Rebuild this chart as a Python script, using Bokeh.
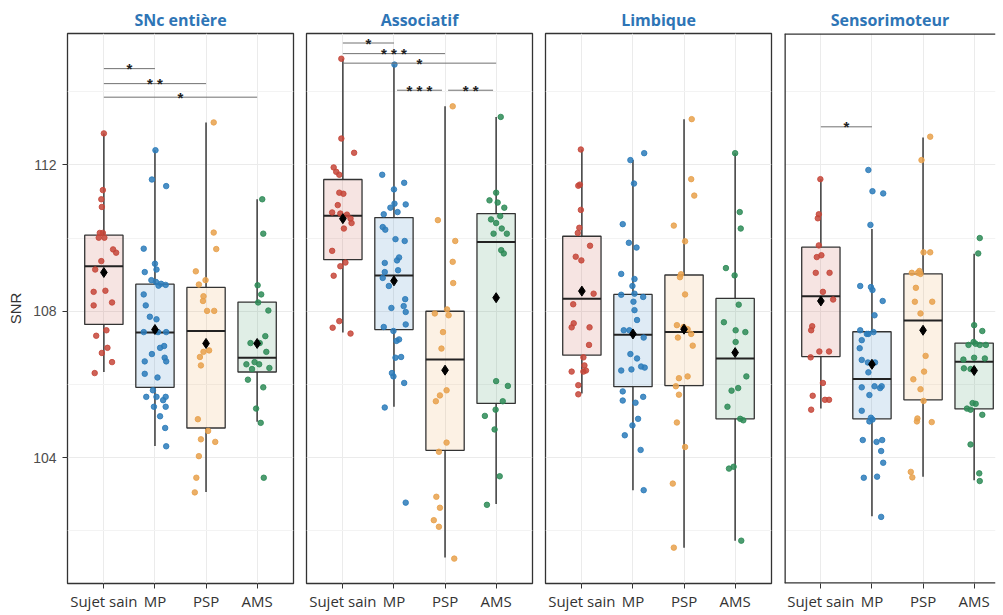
from bokeh.plotting import figure
from bokeh.layouts import row
from bokeh.models import FixedTicker, Range1d, Span
from bokeh.embed import file_html
from bokeh.resources import INLINE

# ---------------- data ----------------
CATEGORIES = ["Sujet sain", "MP", "PSP", "AMS"]
PANEL_TITLES = ["SNc entière", "Associatif", "Limbique", "Sensorimoteur"]
COLORS = ["#C5473A", "#2B7BBA", "#E8A14C", "#2E8B57"]
Y_TICKS = [104, 108, 112]
Y_MINOR = [102, 106, 110, 114]
Y_LABEL = "SNR"

# --- SNc entière ---
SNC_Y = {
    "Sujet sain": [112.86, 111.31, 111.06, 110.85, 110.14, 110.14, 110.01, 110.01, 109.69, 109.60, 109.37,
                   109.14, 108.53, 108.56, 108.16, 108.24, 107.48, 107.33, 107.00, 106.86, 106.61, 106.31],
    "MP": [112.40, 111.60, 111.42, 109.71, 109.30, 109.14, 109.07, 108.85, 108.80, 108.75, 108.70, 108.72,
           108.46, 108.16, 107.85, 107.78, 107.43, 107.43, 107.43, 107.05, 107.00, 106.83, 106.73, 106.63,
           106.63, 106.29, 106.19, 105.84, 105.66, 105.66, 105.66, 105.57, 105.39, 105.39, 105.13, 104.81, 104.31],
    "PSP": [113.16, 110.15, 109.70, 109.09, 108.85, 108.73, 108.41, 108.28, 108.01, 108.01, 106.93, 106.89,
            106.75, 106.52, 105.05, 104.73, 104.50, 104.43, 104.04, 103.45, 103.05],
    "AMS": [111.06, 110.12, 108.71, 108.46, 108.24, 108.02, 107.32, 107.13, 107.13, 106.89, 106.55, 106.61,
            106.55, 106.42, 106.45, 106.13, 105.92, 105.34, 104.95, 103.45],
}
SNC_DX = {
    "Sujet sain": [0.00, -0.02, -0.05, -0.04, -0.08, -0.02, -0.10, 0.01, 0.18, 0.24, -0.05, -0.17, -0.20,
                   0.03, -0.20, 0.16, 0.05, -0.15, 0.07, -0.04, 0.16, -0.18],
    "MP": [0.01, -0.06, 0.22, -0.22, 0.00, 0.03, -0.20, -0.07, 0.02, 0.12, 0.07, 0.21, -0.22, -0.18, -0.10,
           0.03, -0.22, 0.06, 0.22, 0.18, 0.10, -0.06, 0.19, -0.20, 0.22, -0.20, 0.05, -0.04, -0.17, 0.03,
           0.21, 0.16, -0.02, 0.21, 0.10, 0.20, 0.22],
    "PSP": [0.15, 0.15, 0.20, -0.20, -0.01, -0.14, -0.05, -0.06, 0.02, 0.16, 0.06, -0.05, -0.12, -0.10,
            -0.16, 0.04, -0.10, 0.18, -0.14, -0.19, -0.22],
    "AMS": [0.10, 0.12, 0.01, 0.08, 0.02, 0.22, 0.16, -0.13, 0.05, 0.18, -0.21, -0.05, 0.04, -0.10, 0.24,
            -0.18, 0.12, -0.02, 0.07, 0.13],
}
SNC_LOW = [106.34, 104.32, 103.06, 104.98]
SNC_Q1 = [107.64, 105.92, 104.81, 106.34]
SNC_MED = [109.23, 107.42, 107.46, 106.73]
SNC_Q3 = [110.08, 108.74, 108.65, 108.25]
SNC_HIGH = [112.86, 112.40, 113.16, 111.06]
SNC_MEAN = [109.06, 107.50, 107.12, 107.12]
SNC_SIG = [("Sujet sain", "MP", 114.63, "*", 0.0),
           ("Sujet sain", "PSP", 114.22, "**", 0.0),
           ("Sujet sain", "AMS", 113.85, "*", 0.0)]

# --- Associatif ---
ASSO_Y = {
    "Sujet sain": [114.90, 112.72, 112.33, 111.93, 111.81, 111.73, 111.24, 111.21, 110.90, 110.70, 110.67,
                   110.64, 110.53, 110.41, 110.26, 109.65, 109.33, 109.23, 108.97, 107.73, 107.55, 107.39],
    "MP": [114.74, 111.73, 111.51, 111.33, 110.94, 110.83, 110.92, 110.71, 110.65, 110.30, 110.23, 109.97,
           109.92, 109.47, 109.39, 109.32, 109.07, 109.12, 108.91, 108.69, 108.33, 108.14, 108.09, 107.98,
           107.64, 107.57, 107.46, 107.19, 107.23, 106.73, 106.75, 106.31, 106.22, 106.04, 105.37, 102.77],
    "PSP": [113.60, 110.49, 109.92, 109.35, 108.77, 107.94, 108.05, 107.89, 107.43, 106.98, 105.84, 105.70,
            105.54, 104.41, 104.16, 102.93, 102.63, 102.29, 102.11, 101.24],
    "AMS": [113.31, 111.24, 111.03, 110.97, 110.83, 110.51, 110.60, 110.41, 110.26, 110.12, 110.12, 109.67,
            109.58, 106.09, 105.96, 105.54, 105.31, 105.14, 104.77, 103.49, 102.71],
}
ASSO_DX = {
    "Sujet sain": [-0.03, -0.03, 0.22, -0.18, -0.13, -0.07, -0.07, 0.01, -0.10, -0.21, -0.05, 0.08, 0.15,
                   0.17, 0.02, -0.21, 0.05, -0.05, -0.18, -0.07, -0.20, 0.15],
    "MP": [0.01, -0.23, 0.20, 0.00, 0.01, -0.07, 0.23, 0.07, -0.20, -0.22, -0.17, 0.03, 0.21, 0.10, 0.06,
           -0.18, -0.18, 0.08, -0.22, -0.10, 0.22, 0.19, -0.05, 0.23, 0.23, -0.20, -0.01, 0.05, 0.10, 0.03,
           0.14, -0.04, -0.01, 0.20, -0.18, 0.23],
    "PSP": [0.15, -0.14, 0.20, 0.15, 0.16, -0.20, 0.04, 0.07, -0.04, -0.07, 0.03, -0.10, -0.18, 0.03, -0.12,
            -0.17, -0.10, -0.22, -0.12, 0.18],
    "AMS": [0.09, 0.00, -0.13, 0.03, 0.16, -0.10, 0.08, 0.00, 0.11, 0.21, -0.05, 0.10, 0.15, 0.00, 0.23,
            0.13, -0.01, -0.22, -0.03, 0.07, -0.18],
}
ASSO_LOW = [107.42, 105.39, 101.27, 102.73]
ASSO_Q1 = [109.41, 107.50, 104.20, 105.48]
ASSO_MED = [110.61, 108.98, 106.68, 109.89]
ASSO_Q3 = [111.60, 110.56, 108.00, 110.67]
ASSO_HIGH = [114.90, 114.74, 113.60, 113.31]
ASSO_MEAN = [110.53, 108.83, 106.39, 108.37]
ASSO_SIG = [("Sujet sain", "MP", 115.33, "*", 0.0),
            ("Sujet sain", "PSP", 115.04, "***", 0.0),
            ("Sujet sain", "AMS", 114.78, "*", 0.0),
            ("MP", "PSP", 114.04, "***", 0.06),
            ("PSP", "AMS", 114.04, "**", 0.06)]

# --- Limbique ---
LIMB_Y = {
    "Sujet sain": [112.42, 111.46, 111.43, 110.77, 110.28, 110.14, 109.79, 109.49, 109.39, 108.48, 108.19,
                   107.67, 107.56, 107.56, 107.08, 106.74, 106.52, 106.38, 106.35, 106.35, 105.98, 105.73],
    "MP": [112.32, 112.13, 111.49, 110.38, 109.87, 109.74, 109.02, 108.88, 108.69, 108.45, 108.48, 108.39,
           108.26, 108.03, 107.76, 107.48, 107.48, 107.28, 106.83, 106.71, 106.49, 106.46, 106.41, 106.38,
           105.81, 105.66, 105.56, 105.50, 105.06, 104.88, 104.61, 104.21, 103.11],
    "PSP": [113.25, 111.61, 111.16, 110.34, 109.91, 109.01, 108.93, 108.46, 107.62, 107.57, 107.51, 107.38,
            107.28, 107.06, 106.22, 106.17, 105.95, 105.72, 104.96, 104.29, 103.29, 101.54],
    "AMS": [112.32, 110.71, 110.26, 109.18, 108.98, 108.18, 107.70, 107.48, 107.43, 107.16, 106.22, 105.90,
            105.83, 105.39, 105.06, 105.02, 103.70, 103.75, 101.73],
}
LIMB_DX = {
    "Sujet sain": [-0.02, -0.04, -0.07, -0.02, -0.05, -0.08, 0.16, -0.12, -0.01, 0.23, -0.17, -0.16, -0.20,
                   0.15, 0.14, 0.03, 0.05, 0.08, -0.20, 0.03, -0.07, -0.07],
    "MP": [0.22, -0.05, 0.02, -0.20, -0.08, 0.07, -0.23, 0.03, -0.01, -0.23, 0.03, 0.20, 0.01, 0.03, 0.08,
           -0.18, -0.07, 0.21, -0.05, 0.08, 0.16, 0.23, -0.03, -0.23, -0.20, 0.20, -0.20, 0.05, 0.10, -0.01,
           -0.16, 0.15, 0.21],
    "PSP": [0.15, 0.14, 0.20, -0.20, 0.02, -0.06, -0.08, 0.02, -0.14, -0.01, 0.07, 0.14, -0.12, 0.17, 0.07,
            -0.10, -0.16, -0.10, -0.14, 0.02, -0.22, -0.20],
    "AMS": [0.00, 0.09, 0.11, -0.18, -0.01, 0.07, -0.22, 0.01, 0.20, 0.01, 0.22, 0.06, -0.07, -0.15, 0.10,
            0.16, -0.12, -0.03, 0.12],
}
LIMB_LOW = [105.75, 103.11, 101.54, 101.73]
LIMB_Q1 = [106.80, 105.94, 105.97, 105.06]
LIMB_MED = [108.34, 107.36, 107.43, 106.71]
LIMB_Q3 = [110.05, 108.46, 108.99, 108.35]
LIMB_HIGH = [112.42, 112.13, 113.25, 112.32]
LIMB_MEAN = [108.55, 107.38, 107.51, 106.87]
LIMB_SIG = []

# --- Sensorimoteur ---
SENS_Y = {
    "Sujet sain": [111.61, 110.65, 110.54, 109.80, 109.53, 109.48, 109.05, 109.05, 108.53, 108.32, 107.59,
                   107.48, 106.90, 106.90, 106.74, 106.04, 105.69, 105.58, 105.58, 105.31],
    "MP": [111.86, 111.28, 111.22, 110.36, 108.69, 108.66, 108.58, 108.28, 107.89, 107.48, 107.38, 107.43,
           107.38, 107.21, 106.99, 106.67, 106.60, 106.60, 106.33, 105.92, 105.95, 105.90, 105.95, 105.71,
           105.28, 105.09, 105.04, 104.99, 104.48, 104.43, 104.48, 104.18, 103.86, 103.45, 103.48, 102.38],
    "PSP": [112.77, 112.13, 109.61, 109.61, 109.05, 109.05, 109.10, 109.02, 108.64, 108.26, 108.26, 107.94,
            106.78, 106.35, 106.14, 105.87, 105.55, 105.07, 104.99, 104.97, 103.61, 103.46],
    "AMS": [110.00, 109.58, 107.62, 107.46, 107.16, 107.11, 107.08, 107.08, 107.08, 106.68, 106.73, 106.71,
            106.44, 106.42, 105.49, 105.47, 105.34, 105.31, 105.17, 104.36, 103.57, 103.36],
}
SENS_DX = {
    "Sujet sain": [-0.01, -0.04, -0.06, -0.04, 0.01, -0.08, -0.10, 0.17, 0.04, 0.24, -0.17, -0.19, -0.03,
                   0.16, -0.20, 0.04, -0.16, 0.08, 0.16, -0.19],
    "MP": [-0.07, 0.01, 0.22, -0.03, -0.23, -0.02, 0.01, 0.21, 0.05, -0.23, -0.07, 0.03, -0.10, -0.20, -0.24,
           -0.20, -0.08, 0.06, -0.07, -0.20, 0.05, 0.16, 0.19, -0.05, -0.20, -0.02, 0.01, -0.05, -0.18, 0.09,
           0.20, 0.18, 0.22, -0.16, 0.10, 0.18],
    "PSP": [0.14, -0.03, 0.01, 0.14, -0.22, -0.10, -0.07, -0.05, -0.14, -0.16, 0.18, -0.05, 0.05, 0.02,
            -0.19, -0.05, 0.01, -0.11, -0.12, 0.17, -0.24, -0.21],
    "AMS": [0.11, 0.08, 0.00, 0.16, -0.01, 0.03, 0.11, 0.23, -0.11, -0.21, 0.00, 0.21, -0.20, -0.07, -0.03,
            0.03, -0.14, -0.07, 0.16, -0.07, 0.10, 0.11],
}
SENS_LOW = [105.34, 102.40, 103.48, 103.38]
SENS_Q1 = [106.76, 105.06, 105.58, 105.33]
SENS_MED = [108.41, 106.15, 107.75, 106.62]
SENS_Q3 = [109.75, 107.44, 109.02, 107.13]
SENS_HIGH = [111.61, 110.25, 112.75, 109.57]
SENS_MEAN = [108.28, 106.55, 107.48, 106.38]
SENS_SIG = [("Sujet sain", "MP", 113.04, "*", 0.0)]

PANELS = [
    (SNC_Y, SNC_DX, SNC_LOW, SNC_Q1, SNC_MED, SNC_Q3, SNC_HIGH, SNC_MEAN, SNC_SIG),
    (ASSO_Y, ASSO_DX, ASSO_LOW, ASSO_Q1, ASSO_MED, ASSO_Q3, ASSO_HIGH, ASSO_MEAN, ASSO_SIG),
    (LIMB_Y, LIMB_DX, LIMB_LOW, LIMB_Q1, LIMB_MED, LIMB_Q3, LIMB_HIGH, LIMB_MEAN, LIMB_SIG),
    (SENS_Y, SENS_DX, SENS_LOW, SENS_Q1, SENS_MED, SENS_Q3, SENS_HIGH, SENS_MEAN, SENS_SIG),
]

# ---------------- styling / layout ----------------
X0, X1 = 0.288, 4.712
Y0, Y1 = 100.56, 115.59
FW, FH = 226, 550
BORDER = "#333333"
BOX_W = 0.75


def make_panel(i, title, data):
    ys, dxs, low, q1, med, q3, high, mean, sig = data
    first, last = i == 0, i == 3
    fw = 211 if last else FW
    x_end = X0 + (X1 - X0) * fw / FW
    p = figure(x_range=Range1d(X0, x_end), y_range=Range1d(Y0, Y1),
               frame_width=fw, frame_height=FH,
               min_border_left=67 if first else 7, min_border_right=2 if last else 6,
               min_border_top=33, min_border_bottom=25,
               y_axis_location="left" if first else None,
               output_backend="svg", toolbar_location=None, title=title)
    p.background_fill_color = "white"
    p.border_fill_color = "white"
    if last:
        p.outline_line_color = None
        for loc, dim in ((X0, "height"), (Y0, "width"), (Y1, "width")):
            p.add_layout(Span(location=loc, dimension=dim, line_color=BORDER, line_width=2.6))
    else:
        p.outline_line_color = BORDER
        p.outline_line_width = 1.3

    t = p.title
    t.align = "center"
    t.text_font = "Open Sans"
    t.text_font_style = "bold"
    t.text_font_size = "16px"
    t.text_color = "#2E75B6"
    t.standoff = 6
    if last:
        t.offset = 6

    xs = [k + 1 for k in range(len(CATEGORIES))]

    # grid
    p.xgrid.ticker = FixedTicker(ticks=xs)
    p.xgrid.grid_line_color = "#EBEBEB"
    p.ygrid.ticker = FixedTicker(ticks=Y_TICKS, minor_ticks=Y_MINOR)
    p.ygrid.grid_line_color = "#EBEBEB"
    p.ygrid.minor_grid_line_color = "#F3F3F3"

    # x axis
    xa = p.xaxis[0]
    xa.ticker = FixedTicker(ticks=xs)
    xa.major_label_overrides = {k + 1: c for k, c in enumerate(CATEGORIES)}
    xa.major_label_text_font = "Open Sans"
    xa.major_label_text_font_size = "15px"
    xa.major_label_text_color = "#333333"
    xa.major_label_standoff = 2
    xa.major_tick_out = 5
    xa.major_tick_in = 0
    xa.major_tick_line_color = BORDER
    xa.minor_tick_line_color = None
    xa.axis_line_color = None

    if first:
        ya = p.yaxis[0]
        ya.ticker = FixedTicker(ticks=Y_TICKS)
        ya.axis_label = Y_LABEL
        ya.axis_label_text_font = "Liberation Sans"
        ya.axis_label_text_font_style = "normal"
        ya.axis_label_text_font_size = "15px"
        ya.axis_label_text_color = "#333333"
        ya.axis_label_standoff = 6
        ya.major_label_text_font = "Liberation Sans"
        ya.major_label_text_font_size = "14px"
        ya.major_label_text_color = "#4D4D4D"
        ya.major_label_standoff = 6
        ya.major_tick_out = 5
        ya.major_tick_in = 0
        ya.major_tick_line_color = BORDER
        ya.minor_tick_line_color = None
        ya.axis_line_color = None

    # whiskers
    p.segment(x0=xs, y0=low, x1=xs, y1=q1, line_color="#3A3A3A", line_width=1.5)
    p.segment(x0=xs, y0=q3, x1=xs, y1=high, line_color="#3A3A3A", line_width=1.5)
    # boxes
    p.vbar(x=xs, width=BOX_W, bottom=q1, top=q3, fill_color=COLORS, fill_alpha=0.15,
           line_color=BORDER, line_width=1.3)
    p.segment(x0=[x - BOX_W / 2 for x in xs], y0=med, x1=[x + BOX_W / 2 for x in xs], y1=med,
              line_color="#222222", line_width=2)
    # jittered points
    for k, cat in enumerate(CATEGORIES):
        px = [k + 1 + d for d in dxs[cat]]
        p.scatter(x=px, y=ys[cat], size=5.5, fill_color=COLORS[k], line_color=COLORS[k],
                  fill_alpha=0.85, line_alpha=0.85)
    # means
    p.scatter(x=xs, y=mean, marker="diamond", size=10, fill_color="black", line_color="black")
    # significance
    for a, b, yv, lab, inset in sig:
        xa0 = CATEGORIES.index(a) + 1 + inset
        xa1 = CATEGORIES.index(b) + 1 - inset
        p.segment(x0=[xa0], y0=[yv], x1=[xa1], y1=[yv], line_color="#707070", line_width=1)
        p.text(x=[(xa0 + xa1) / 2], y=[yv], text=[" ".join(lab)], text_align="center",
               text_baseline="alphabetic", text_font_size="15px", text_font_style="bold",
               text_color="#222222", y_offset=0)
    return p


figs = [make_panel(i, PANEL_TITLES[i], PANELS[i]) for i in range(4)]
layout = row(*figs)

open("out.html", "w").write(file_html(layout, INLINE))
